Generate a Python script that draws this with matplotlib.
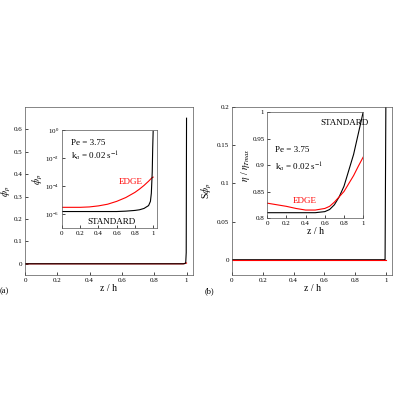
import matplotlib
matplotlib.use("Agg")
import matplotlib.pyplot as plt
import numpy as np

plt.rcParams['font.family'] = ['Liberation Serif', 'DejaVu Serif']
plt.rcParams['mathtext.fontset'] = 'stix'

# main (a)
za_main = [0, 0.5, 0.98, 0.99, 0.995, 0.998, 1.0]
phi_std = [0, 0, 0, 0.001, 0.005, 0.05, 0.65]
phi_edge = [0, 0, 0, 0.002, 0.005, 0.003, 0.003]
# inset (a)
zi = [0, 0.1, 0.2, 0.3, 0.4, 0.5, 0.6, 0.7, 0.8, 0.85, 0.9, 0.95, 0.97, 0.98, 0.99, 0.995, 1.0]
phi_std_in = [1.5e-6, 1.5e-6, 1.5e-6, 1.5e-6, 1.5e-6, 1.5e-6, 1.5e-6, 1.6e-6, 1.8e-6, 2e-6, 2.5e-6, 4e-6, 8e-6, 3e-5, 1e-3, 5e-2, 0.8]
phi_edge_in = [3e-6, 3e-6, 3e-6, 3.2e-6, 3.8e-6, 5e-6, 8e-6, 1.5e-5, 3.5e-5, 6e-5, 1.1e-4, 2.2e-4, 3e-4, 3.5e-4, 4e-4, 4.2e-4, 4.3e-4]
# main (b)
zb_main = [0, 0.5, 0.99, 0.995, 1.0]
sphi_std = [0, 0, 0, 0, 0.2]
sphi_edge = [0, 0, 0, 0, 0]
# inset (b)
zbi = [0, 0.1, 0.2, 0.3, 0.4, 0.5, 0.6, 0.65, 0.7, 0.75, 0.8, 0.85, 0.9, 0.95, 1.0]
eta_std = [0.81, 0.81, 0.81, 0.81, 0.81, 0.81, 0.812, 0.816, 0.825, 0.84, 0.86, 0.89, 0.92, 0.96, 1.0]
eta_edge = [0.828, 0.825, 0.822, 0.818, 0.815, 0.815, 0.818, 0.822, 0.83, 0.84, 0.85, 0.865, 0.88, 0.898, 0.915]

fig = plt.figure(figsize=(4, 4), dpi=100)
ax1 = fig.add_axes([0.0625, 0.3125, 0.42, 0.42])
ax1.plot(za_main, phi_edge, color='red', lw=0.8)
ax1.plot(za_main, phi_std, color='black', lw=0.8)
ax1.set_xlim(0, 1.04); ax1.set_ylim(-0.05, 0.7)
ax1.set_xticks([0, 0.2, 0.4, 0.6, 0.8, 1]); ax1.set_xticklabels(['0', '0.2', '0.4', '0.6', '0.8', '1'])
ax1.set_yticks([0, 0.1, 0.2, 0.3, 0.4, 0.5, 0.6]); ax1.set_yticklabels(['0', '0.1', '0.2', '0.3', '0.4', '0.5', '0.6'])
ax1.set_xlabel('z / h', fontsize=7, labelpad=1)
ax1.set_ylabel(r'$\phi_p$', fontsize=7, labelpad=0)
ax1.text(-0.15, -0.11, '(a)', transform=ax1.transAxes, fontsize=6)

in1 = fig.add_axes([0.155, 0.43, 0.237, 0.245])
in1.semilogy(zi, phi_edge_in, color='red', lw=0.8)
in1.semilogy(zi, phi_std_in, color='black', lw=0.8)
in1.set_xlim(0, 1.04); in1.set_ylim(1e-7, 1)
in1.set_yticks([1e-6, 1e-4, 1e-2, 1])
in1.set_xticks([0, 0.2, 0.4, 0.6, 0.8, 1]); in1.set_xticklabels(['0', '0.2', '0.4', '0.6', '0.8', '1'])
in1.set_ylabel(r'$\phi_p$', fontsize=7, labelpad=0)
in1.text(0.1, 0.85, 'Pe = 3.75', transform=in1.transAxes, fontsize=6.5)
in1.text(0.1, 0.7, r'k$_a$ = 0.02 s$^{-1}$', transform=in1.transAxes, fontsize=6.5)
in1.text(0.6, 0.45, 'EDGE', transform=in1.transAxes, fontsize=6.5, color='red')
in1.text(0.27, 0.04, 'STANDARD', transform=in1.transAxes, fontsize=6.5)

ax2 = fig.add_axes([0.58, 0.3125, 0.40, 0.42])
ax2.plot(zb_main, sphi_std, color='black', lw=0.8)
ax2.plot(zb_main, sphi_edge, color='red', lw=0.8)
ax2.set_xlim(0, 1.04); ax2.set_ylim(-0.02, 0.2)
ax2.set_xticks([0, 0.2, 0.4, 0.6, 0.8, 1]); ax2.set_xticklabels(['0', '0.2', '0.4', '0.6', '0.8', '1'])
ax2.set_yticks([0, 0.05, 0.1, 0.15, 0.2]); ax2.set_yticklabels(['0', '0.05', '0.1', '0.15', '0.2'])
ax2.set_xlabel('z / h', fontsize=7, labelpad=1)
ax2.set_ylabel(r'S$\phi_p$', fontsize=7, labelpad=2)
ax2.text(-0.17, -0.11, '(b)', transform=ax2.transAxes, fontsize=6)

in2 = fig.add_axes([0.668, 0.455, 0.24, 0.265])
in2.plot(zbi, eta_std, color='black', lw=0.8)
in2.plot(zbi, eta_edge, color='red', lw=0.8)
in2.set_xlim(0, 1); in2.set_ylim(0.8, 1)
in2.set_xticks([0, 0.2, 0.4, 0.6, 0.8, 1]); in2.set_xticklabels(['0', '0.2', '0.4', '0.6', '0.8', '1'])
in2.set_yticks([0.8, 0.85, 0.9, 0.95, 1]); in2.set_yticklabels(['0.8', '0.85', '0.9', '0.95', '1'])
in2.set_xlabel('z / h', fontsize=7, labelpad=1)
in2.set_ylabel(r'$\eta$ / $\eta_{Tmax}$', fontsize=7, labelpad=0)
in2.text(0.08, 0.62, 'Pe = 3.75', transform=in2.transAxes, fontsize=6.5)
in2.text(0.08, 0.45, r'k$_a$ = 0.02 s$^{-1}$', transform=in2.transAxes, fontsize=6.5)
in2.text(0.55, 0.88, 'STANDARD', transform=in2.transAxes, fontsize=6.5)
in2.text(0.27, 0.14, 'EDGE', transform=in2.transAxes, fontsize=6.5, color='red')

for a in (ax1, ax2, in1, in2):
    a.tick_params(labelsize=5, direction='in', length=2, width=0.5, which='both', pad=2)
    for s in a.spines.values():
        s.set_linewidth(0.5); s.set_color('#555555')

fig.savefig('out.png', dpi=100)
